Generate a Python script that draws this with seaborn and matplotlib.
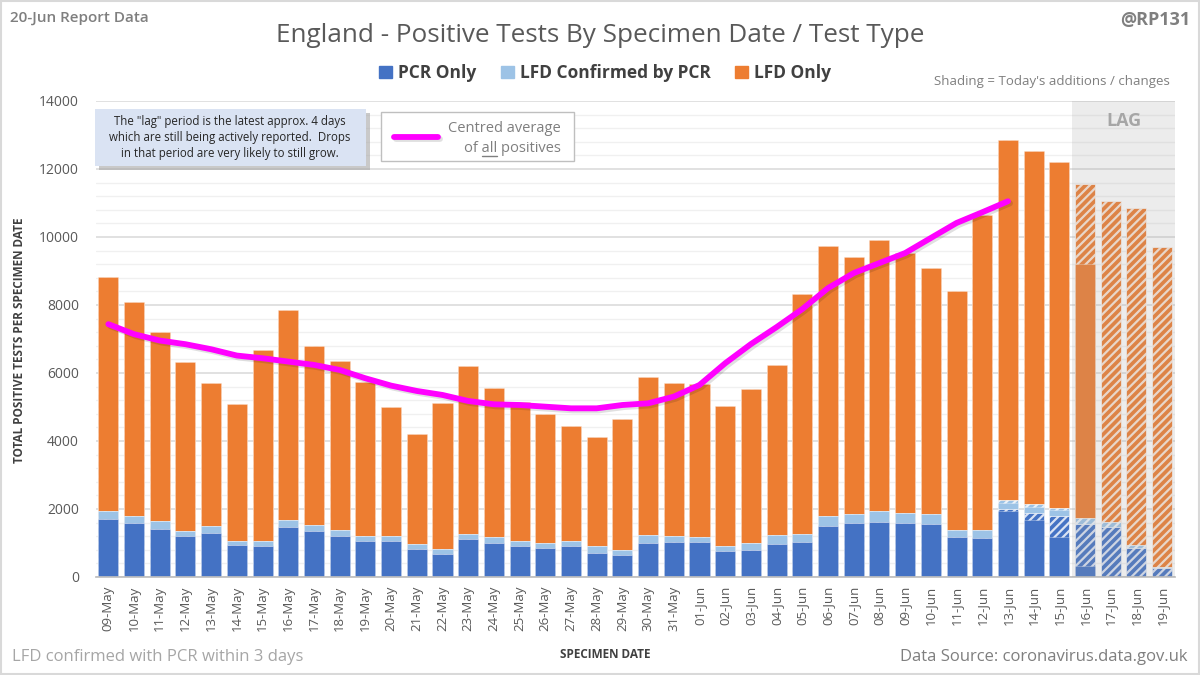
import numpy as np
import pandas as pd
import matplotlib
matplotlib.use("Agg")
import matplotlib.pyplot as plt
import matplotlib.patches as mpatches
import matplotlib.patheffects as pe
from matplotlib.ticker import MultipleLocator
import seaborn as sns

# ---------------- data ----------------
dates = ["09-May", "10-May", "11-May", "12-May", "13-May", "14-May", "15-May", "16-May",
         "17-May", "18-May", "19-May", "20-May", "21-May", "22-May", "23-May", "24-May",
         "25-May", "26-May", "27-May", "28-May", "29-May", "30-May", "31-May", "01-Jun",
         "02-Jun", "03-Jun", "04-Jun", "05-Jun", "06-Jun", "07-Jun", "08-Jun", "09-Jun",
         "10-Jun", "11-Jun", "12-Jun", "13-Jun", "14-Jun", "15-Jun", "16-Jun", "17-Jun",
         "18-Jun", "19-Jun"]

pcr_prev = [1719, 1591, 1415, 1198, 1306, 943, 914, 1473, 1356, 1198, 1061, 1061, 815, 688,
            1110, 992, 914, 864, 914, 707, 639, 1012, 1031, 1022, 766, 806, 982, 1022,
            1513, 1601, 1631, 1591, 1562, 1179, 1139, 1935, 1670, 1179, 324, 0, 0, 0]
pcr_new = [0] * 35 + [70, 216, 609, 1248, 1473, 864, 275]

conf_prev = [216, 207, 225, 158, 207, 118, 147, 197, 176, 197, 147, 147, 148, 127, 157, 177,
             137, 148, 157, 197, 157, 236, 177, 157, 138, 186, 256, 235, 294, 265, 304, 285,
             285, 216, 236, 180, 175, 175, 0, 0, 0, 0]
conf_new = [0] * 35 + [75, 80, 80, 177, 148, 69, 20]

lfd_prev = [6886, 6296, 5580, 4980, 4204, 4037, 5619, 6169, 5256, 4961, 4529, 3792, 3241, 4313,
            4941, 4401, 4106, 3782, 3359, 3222, 3850, 4646, 4489, 4489, 4135, 4548, 4990, 7053,
            7938, 7554, 7967, 7643, 7249, 7014, 9283, 10579, 10374, 10177, 7465, 0, 0, 0]
lfd_new = [0] * 38 + [2348, 9450, 9912, 9420]

centred_avg = [7436, 7142, 6955, 6847, 6699, 6513, 6434, 6336, 6238, 6090, 5845, 5629, 5472,
               5354, 5177, 5079, 5059, 5010, 4961, 4961, 5059, 5108, 5305, 5648, 6287, 6850,
               7350, 7880, 8497, 8939, 9234, 9528, 9971, 10413, 10727, 11051]

y_ticks = [0, 2000, 4000, 6000, 8000, 10000, 12000, 14000]
lag_days = 4

# ---------------- style ----------------
sns.set_theme(style="white")
plt.rcParams["font.family"] = ["Open Sans", "DejaVu Sans"]
plt.rcParams["hatch.linewidth"] = 1.6

C_PCR = "#4472C4"
C_CONF = "#9DC3E6"
C_LFD = "#ED7D31"
GREY = "#595959"
HATCH_EC = (1, 1, 1, 0.8)

W, H = 1200, 675
fig = plt.figure(figsize=(12, 6.75), dpi=100)
ax = fig.add_axes([95.5 / W, (H - 577) / H, (1175 - 95.5) / W, 476 / H])

df = pd.DataFrame({
    "date": dates,
    "pcr_prev": pcr_prev, "pcr_new": pcr_new,
    "conf_prev": conf_prev, "conf_new": conf_new,
    "lfd_prev": lfd_prev, "lfd_new": lfd_new,
})
layers = [("pcr_prev", C_PCR, None), ("pcr_new", C_PCR, "////"),
          ("conf_prev", C_CONF, None), ("conf_new", C_CONF, "////"),
          ("lfd_prev", C_LFD, None), ("lfd_new", C_LFD, "////")]
cum = df[[l[0] for l in layers]].cumsum(axis=1)

# draw from top cumulative layer down so lower layers cover the upper ones
for name, color, hatch in reversed(layers):
    sns.barplot(x=df["date"], y=cum[name], order=dates, color=color, saturation=1,
                width=0.78, errorbar=None, ax=ax, hatch=hatch,
                edgecolor=HATCH_EC if hatch else (1, 1, 1, 0.35),
                linewidth=0.6, zorder=2)

shadow = [pe.SimpleLineShadow(offset=(1.5, -1.5), alpha=0.12, shadow_color="black"),
          pe.Normal()]

# centred average line
xs = np.arange(len(centred_avg))
sns.lineplot(x=xs, y=centred_avg, ax=ax, color="#FF00FF", linewidth=4.2, zorder=5,
             path_effects=shadow)

# lag shading
n = len(dates)
ax.axvspan(n - lag_days - 0.5, n - 0.5, color="#A0A0A0", alpha=0.2, lw=0, zorder=4)
ax.text(n - lag_days / 2 - 0.5, 13400, "LAG", ha="center", va="center", fontsize=13,
        fontweight="bold", color="#A6A6A6", zorder=6)

# axes formatting
ax.set_xlim(-0.5, n - 0.5)
ax.set_ylim(0, 14000)
ax.set_yticks(y_ticks)
ax.set_yticklabels([str(v) for v in y_ticks], fontsize=10, color=GREY)
ax.yaxis.set_minor_locator(MultipleLocator(400))
ax.grid(axis="y", which="major", color="#D9D9D9", lw=1.1, zorder=0)
ax.grid(axis="y", which="minor", color="#F0F0F0", lw=1.0, zorder=0)
ax.grid(axis="x", visible=False)
ax.set_axisbelow(True)
ax.tick_params(axis="y", length=0, pad=12)
ax.set_xticks(range(n))
ax.set_xticklabels(dates, rotation=90, fontsize=9.5, color=GREY)
ax.set_xticks(np.arange(-0.5, n, 1), minor=True)
ax.tick_params(axis="x", which="major", length=0, pad=6)
ax.tick_params(axis="x", which="minor", length=5, color="#BFBFBF", width=1)
for s in ["left", "right", "top"]:
    ax.spines[s].set_visible(False)
ax.spines["bottom"].set_color("#BFBFBF")
ax.set_xlabel("")
ax.set_ylabel("")

# ---------------- figure texts ----------------
def fx(x):
    return x / W

def fy(y):
    return 1 - y / H

fig.text(fx(600), fy(36), "England - Positive Tests By Specimen Date / Test Type",
         ha="center", va="center", fontsize=18.8, color=GREY)
fig.text(fx(10), fy(18), "20-Jun Report Data", ha="left", va="center", fontsize=11,
         fontweight="semibold", color="#7F7F7F")
fig.text(fx(1190), fy(20), "@RP131", ha="right", va="center", fontsize=13,
         fontweight="bold", color="#7F7F7F")
fig.text(fx(1170), fy(82), "Shading = Today's additions / changes", ha="right", va="center",
         fontsize=9.5, color="#7F7F7F")
fig.text(fx(12), fy(657), "LFD confirmed with PCR within 3 days", ha="left", va="center",
         fontsize=12, color="#A6A6A6")
fig.text(fx(1188), fy(657), "Data Source: coronavirus.data.gov.uk", ha="right", va="center",
         fontsize=12, color="#7F7F7F")
fig.text(fx(605), fy(655), "SPECIMEN DATE", ha="center", va="center", fontsize=8.5,
         fontweight="bold", color="#404040")
fig.text(fx(20), fy(340), "TOTAL POSITIVE TESTS PER SPECIMEN DATE", ha="center", va="center",
         rotation=90, fontsize=8.5, fontweight="bold", color="#404040")

# series legend
handles = [mpatches.Patch(color=C_PCR, label="PCR Only"),
           mpatches.Patch(color=C_CONF, label="LFD Confirmed by PCR"),
           mpatches.Patch(color=C_LFD, label="LFD Only")]
fig.legend(handles=handles, loc="center", bbox_to_anchor=(fx(605), fy(73)), ncol=3,
           frameon=False, handlelength=0.75, handleheight=0.75, handletextpad=0.35,
           columnspacing=1.4, prop={"size": 12.5, "weight": "bold"}, labelcolor="#404040")

# lag note box
fig.patches.append(mpatches.Rectangle((fx(99), fy(170)), (366 - 95) / W, (166 - 109) / H,
                                      transform=fig.transFigure, fc="#A6A6A6", ec="none",
                                      alpha=0.6, zorder=6))
fig.patches.append(mpatches.Rectangle((fx(95), fy(166)), (366 - 95) / W, (166 - 109) / H,
                                      transform=fig.transFigure, fc="#DAE3F3", ec="none",
                                      zorder=7))
fig.text(fx(230), fy(137.5),
         "The \"lag\" period is the latest approx. 4 days\nwhich are still being actively reported.  Drops\nin that period are very likely to still grow.",
         ha="center", va="center", fontsize=8.3, color="#262626", linespacing=1.35, zorder=8)

# average legend box
fig.patches.append(mpatches.Rectangle((fx(381), fy(161)), (574 - 381) / W, (161 - 112) / H,
                                      transform=fig.transFigure, fc="white", ec="#BFBFBF",
                                      lw=1, zorder=6))
fig.lines.append(plt.Line2D([fx(394), fx(438)], [fy(137), fy(137)], transform=fig.transFigure,
                            color="#FF00FF", lw=4.2, zorder=7, path_effects=shadow))
fig.text(fx(561), fy(128), "Centred average", ha="right", va="center", fontsize=10.5,
         color="#7F7F7F", zorder=8)
t_full = fig.text(fx(561), fy(148), "of all positives", ha="right", va="center",
                  fontsize=10.5, color="#7F7F7F", zorder=8)
# measure text pieces to underline "all"
renderer = fig.canvas.get_renderer()
t_tail = fig.text(fx(561), fy(148), "all positives", ha="right", va="center", fontsize=10.5,
                  color="none")
t_pos = fig.text(fx(561), fy(148), " positives", ha="right", va="center", fontsize=10.5,
                 color="none")
bb_full = t_full.get_window_extent(renderer)
x_right = bb_full.x1
x_all_left = x_right - t_tail.get_window_extent(renderer).width
x_all_right = x_right - t_pos.get_window_extent(renderer).width
t_tail.remove()
t_pos.remove()
fig.lines.append(plt.Line2D([x_all_left / W, x_all_right / W], [fy(156), fy(156)],
                            transform=fig.transFigure, color="#7F7F7F", lw=1, zorder=8))

# figure border
fig.patches.append(mpatches.Rectangle((0.001, 0.001), 0.998, 0.998, transform=fig.transFigure,
                                      fill=False, ec="#D9D9D9", lw=1.5, zorder=10))

fig.savefig("out.png", dpi=100)
